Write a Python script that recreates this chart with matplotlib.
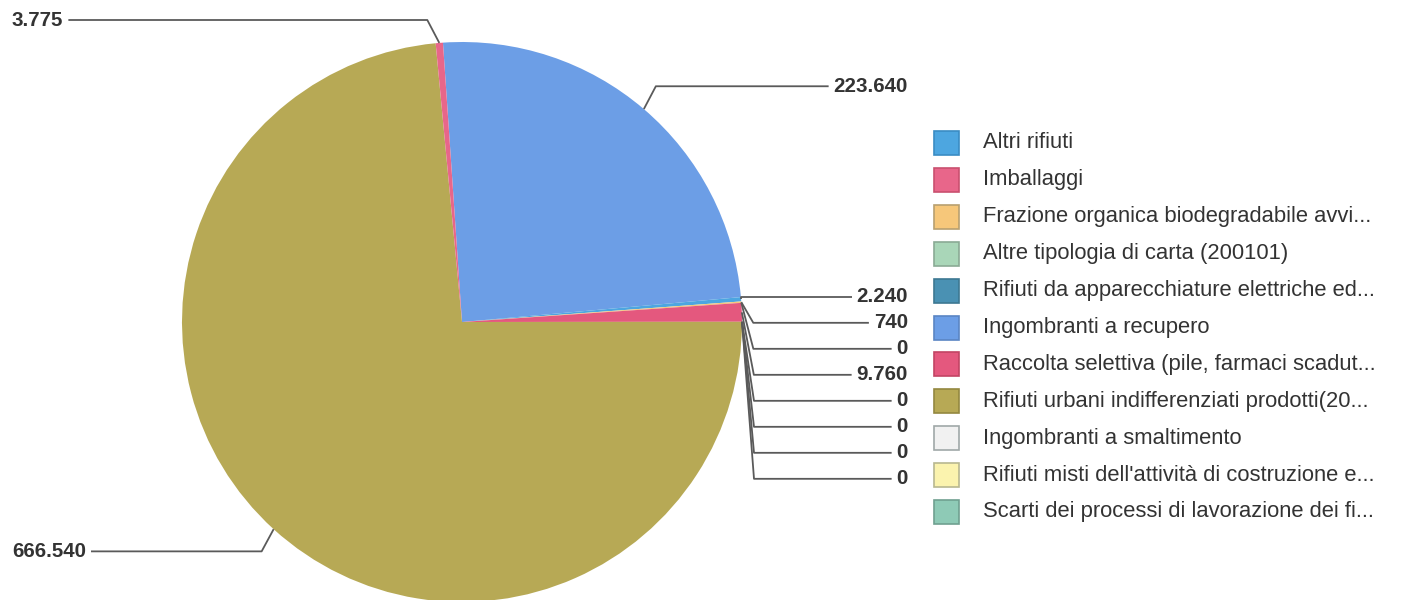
import numpy as np
import matplotlib
matplotlib.use("Agg")
import matplotlib.pyplot as plt
from matplotlib.patches import Rectangle

plt.rcParams['font.family'] = ['Liberation Sans', 'DejaVu Sans']

# ---- data (legend order) ----
categories = [
    "Altri rifiuti",
    "Imballaggi",
    "Frazione organica biodegradabile avvi...",
    "Altre tipologia di carta (200101)",
    "Rifiuti da apparecchiature elettriche ed...",
    "Ingombranti a recupero",
    "Raccolta selettiva (pile, farmaci scadut...",
    "Rifiuti urbani indifferenziati prodotti(20...",
    "Ingombranti a smaltimento",
    "Rifiuti misti dell'attività di costruzione e...",
    "Scarti dei processi di lavorazione dei fi...",
]
values = [2240, 3775, 740, 0, 0, 223640, 9760, 666540, 0, 0, 0]
value_labels = ["2.240", "3.775", "740", "0", "0", "223.640", "9.760", "666.540", "0", "0", "0"]
colors = ["#4da6e0", "#e8668a", "#f6c77a", "#a9d6b8", "#4a91b3", "#6c9ee6",
          "#e4587e", "#b7a955", "#f1f1f1", "#fbf3ae", "#8ecab6"]
legend_edge = ["#3a8cc4", "#c9506f", "#b8a070", "#8aaa95", "#3d7892", "#5a85c4",
               "#c24464", "#948840", "#a0a8a8", "#b8b890", "#6fa090"]
# clockwise drawing order of the slices (indices into the lists above)
slice_order = [5, 0, 2, 3, 6, 4, 8, 9, 10, 7, 1]

W, H = 1407, 600
fig = plt.figure(figsize=(W / 100, H / 100), dpi=100)
fig.patch.set_facecolor("white")

cx, cy, R = 462, 322, 280
ax = fig.add_axes([(cx - R) / W, (H - cy - R) / H, 2 * R / W, 2 * R / H])
ov = fig.add_axes([0, 0, 1, 1])
ov.set_xlim(0, W)
ov.set_ylim(H, 0)
ov.axis("off")

vals = [values[i] for i in slice_order]
cols = [colors[i] for i in slice_order]
total = float(sum(values))
start_deg = 90 + 3.9
wedges, _ = ax.pie(vals, colors=cols, startangle=start_deg, counterclock=False,
                   radius=1, center=(0, 0), wedgeprops=dict(linewidth=0))
ax.set_xlim(-1, 1)
ax.set_ylim(-1, 1)
ax.set_aspect("auto")
ax.axis("off")
for w in wedges:
    w.set_clip_on(False)

# ---- data labels with connectors ----
renderer = fig.canvas.get_renderer()
to_ov = ax.transData + ov.transData.inverted()
line_kw = dict(color="#5a5a5a", lw=1.3, solid_capstyle="butt", zorder=3)

right, left = [], []
for w, idx in zip(wedges, slice_order):
    mid = np.deg2rad((w.theta1 + w.theta2) / 2)
    ax_pt = (np.cos(mid), np.sin(mid))
    px, py = to_ov.transform(ax_pt)
    dist = (R + 30) / R
    ly = to_ov.transform((dist * np.cos(mid), dist * np.sin(mid)))[1]
    item = dict(idx=idx, px=px, py=py, ly=ly)
    (right if px >= cx else left).append(item)

def spread(items, gap=26, ymin=20):
    items.sort(key=lambda d: d["ly"])
    prev = -1e9
    for d in items:
        d["ly"] = max(d["ly"], prev + gap, ymin)
        prev = d["ly"]

spread(right)
spread(left)

for d in right:
    t = ov.text(908, d["ly"], value_labels[d["idx"]], ha="right", va="center",
                fontsize=14.8, fontweight="bold", color="#333333")
    bb = t.get_window_extent(renderer).transformed(ov.transData.inverted())
    x_end = min(bb.x0, bb.x1) - 5
    bx = d["px"] + 12 if abs(d["py"] - d["ly"]) > 3 else d["px"]
    ov.plot([d["px"], bx, x_end], [d["py"], d["ly"], d["ly"]], **line_kw)

for d in left:
    t = ov.text(12, d["ly"], value_labels[d["idx"]], ha="left", va="center",
                fontsize=14.8, fontweight="bold", color="#333333")
    bb = t.get_window_extent(renderer).transformed(ov.transData.inverted())
    x_start = max(bb.x0, bb.x1) + 5
    bx = d["px"] - 12
    ov.plot([d["px"], bx, x_start], [d["py"], d["ly"], d["ly"]], **line_kw)

# ---- legend ----
row0, row_gap = 143, 36.9
for i, (name, c, ec) in enumerate(zip(categories, colors, legend_edge)):
    y = row0 + i * row_gap
    ov.add_patch(Rectangle((934, y - 12), 25, 24, facecolor=c, edgecolor=ec, lw=1.2))
    ov.text(983, y, name, ha="left", va="center", fontsize=15.8, color="#333333")

fig.savefig("out.png", dpi=100, facecolor="white")
